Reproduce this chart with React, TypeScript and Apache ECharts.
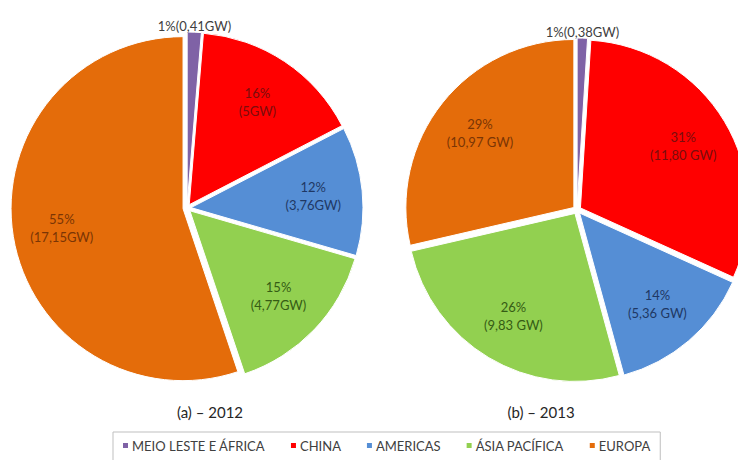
import React, { useEffect, useRef } from "react";
import * as echarts from "echarts";

const categories = ["MEIO LESTE E ÁFRICA", "CHINA", "AMERICAS", "ÁSIA PACÍFICA", "EUROPA"];
const values2012 = [0.41, 5, 3.76, 4.77, 17.15];
const pct2012 = ["1%", "16%", "12%", "15%", "55%"];
const gw2012 = ["0,41GW", "5GW", "3,76GW", "4,77GW", "17,15GW"];
const values2013 = [0.38, 11.8, 5.36, 9.83, 10.97];
const pct2013 = ["1%", "31%", "14%", "26%", "29%"];
const gw2013 = ["0,38GW", "11,80 GW", "5,36 GW", "9,83 GW", "10,97 GW"];
const titles = ["(a) – 2012", "(b) – 2013"];

const colors = ["#7f62a6", "#ff0000", "#558ed5", "#92d050", "#e46c0a"];
const labelColors = ["#404040", "#7a0d0d", "#1f3864", "#355c14", "#7a3505"];
const FONT = "Lato, 'Open Sans', sans-serif";

function mainSeries(values: number[], pct: string[], gw: string[], center: number[], r: number) {
  return {
    type: "pie",
    center,
    radius: r,
    startAngle: 90,
    clockwise: true,
    selectedMode: "multiple",
    selectedOffset: 4,
    silent: true,
    avoidLabelOverlap: false,
    itemStyle: { borderColor: "#fff", borderWidth: 1 },
    select: { itemStyle: { borderColor: "#fff", borderWidth: 1 } },
    emphasis: { disabled: true },
    labelLayout: (p: any) => (p.dataIndex === 0 ? { align: "center", dy: -2 } : {}),
    data: categories.map((name, i) => ({
      name,
      value: values[i],
      selected: true,
      itemStyle: { color: colors[i] },
      label: {
        show: i === 0,
        position: "outside",
        formatter: `${pct[i]}(${gw[i]})`,
        color: labelColors[0],
        fontSize: 13,
        fontFamily: FONT,
        distanceToLabelLine: 0,
      },
      labelLine: { show: false, length: 4, length2: 0 },
    })),
  };
}

function labelSeries(values: number[], pct: string[], gw: string[], center: number[], r: number) {
  return {
    type: "pie",
    center,
    radius: r * 1.44,
    startAngle: 90,
    clockwise: true,
    silent: true,
    avoidLabelOverlap: false,
    emphasis: { disabled: true },
    itemStyle: { color: "rgba(0,0,0,0)" },
    data: categories.map((name, i) => ({
      name,
      value: values[i],
      itemStyle: { color: "rgba(0,0,0,0)" },
      label: {
        show: i !== 0,
        position: "inside",
        formatter: `${pct[i]}\n(${gw[i]})`,
        color: labelColors[i],
        fontSize: 13,
        lineHeight: 18,
        fontFamily: FONT,
      },
    })),
  };
}

export default function App() {
  const ref = useRef<HTMLDivElement>(null);
  useEffect(() => {
    if (!ref.current) return;
    const chart = echarts.init(ref.current, undefined, { renderer: "svg" });
    const c1 = [187, 208];
    const c2 = [577, 210];
    chart.setOption({
      animation: false,
      backgroundColor: "#fff",
      title: [
        { text: titles[0], left: 205, top: 399, textAlign: "center", textStyle: { fontSize: 15, fontWeight: "normal", color: "#262626", fontFamily: FONT } },
        { text: titles[1], left: 536, top: 399, textAlign: "center", textStyle: { fontSize: 15, fontWeight: "normal", color: "#262626", fontFamily: FONT } },
      ],
      legend: {
        data: categories,
        left: 113,
        top: 432,
        icon: "rect",
        itemWidth: 7,
        itemHeight: 7,
        itemGap: 24,
        padding: [7, 10, 12, 8],
        borderColor: "#bfbfbf",
        borderWidth: 1,
        selectedMode: false,
        textStyle: { fontSize: 13, color: "#404040", fontFamily: FONT, padding: [0, 0, 0, -2] },
      },
      series: [
        mainSeries(values2012, pct2012, gw2012, c1, 172),
        mainSeries(values2013, pct2013, gw2013, c2, 168),
        labelSeries(values2012, pct2012, gw2012, c1, 172),
        labelSeries(values2013, pct2013, gw2013, c2, 168),
      ],
    });
    return () => chart.dispose();
  }, []);
  return <div ref={ref} style={{ position: "fixed", left: 0, top: 0, width: 738, height: 460 }} />;
}
